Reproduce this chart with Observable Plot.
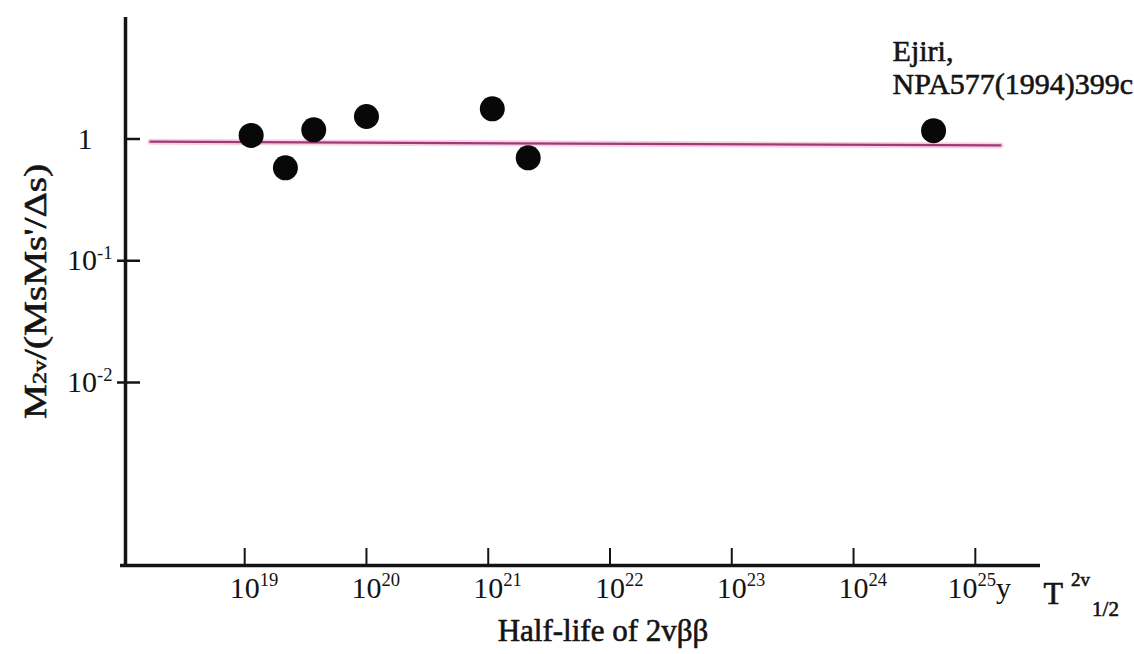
<!DOCTYPE html>
<html><head><meta charset="utf-8">
<script src="https://cdn.jsdelivr.net/npm/d3@7"></script>
<script src="https://cdn.jsdelivr.net/npm/@observablehq/plot@0.6"></script>
<style>
html,body{margin:0;padding:0;background:#fff;overflow:hidden;}
#chart svg{display:block;}
#chart svg, #chart svg text{font-family:'Liberation Serif','Times New Roman',serif !important;}
</style></head><body><div id="chart"></div>
<script>
// ---- data ----
const halfLife = [1.13e19, 2.16e19, 3.69e19, 1.0e20, 1.08e21, 2.13e21, 4.54e24]; // years
const ratio    = [1.07, 0.58, 1.19, 1.53, 1.77, 0.70, 1.17];
const lineX = [1.68e18, 1.61e25];
const lineY = [0.95, 0.885];
const xTicks = [1e19, 1e20, 1e21, 1e22, 1e23, 1e24, 1e25];
const xTickSup = ["19", "20", "21", "22", "23", "24", "25"];
const xTickSuffix = ["", "", "", "", "", "", "y"];
const yTicks = [1, 0.1, 0.01];
const yTickSup = ["", "-1", "-2"];
const xDomain = [1.05e18, 3.43e25];
const yDomain = [3.14e-4, 9.95];
const annotation = ["Ejiri,", "NPA577(1994)399c"];
const xTitle = "Half-life of 2vββ";
const yTitleParts = ["M", "2v", "/(MsMs'/Δs)"];
const tLabelParts = ["T", "2v", "1/2"];

// ---- layout ----
const W = 1134, H = 654;
const mL = 125, mR = 94, mT = 17, mB = 89;
const fw = W - mL - mR, fh = H - mT - mB;
const serif = "Liberation Serif";
const ink = "#141414";
const fs = 30;
const heavy = {stroke: ink, strokeWidth: 0.6};

const pts = halfLife.map((x, i) => ({x, y: ratio[i]}));
const lineData = lineX.map((x, i) => ({x, y: lineY[i]}));

const plot = Plot.plot({
  width: W, height: H,
  marginLeft: mL, marginRight: mR, marginTop: mT, marginBottom: mB,
  style: {background: "white", color: ink},
  x: {type: "log", domain: xDomain},
  y: {type: "log", domain: yDomain},
  marks: [
    Plot.line(lineData, {x: "x", y: "y", stroke: "#f2b0d6", strokeWidth: 6, strokeOpacity: 0.6}),
    Plot.line(lineData, {x: "x", y: "y", stroke: "#a03a74", strokeWidth: 2.2}),
    Plot.tickX(xTicks, {x: d => d, insetTop: fh - 17, stroke: ink, strokeWidth: 2}),
    Plot.tickY(yTicks, {y: d => d, insetRight: fw - 15, stroke: ink, strokeWidth: 2.5}),
    Plot.tickY(yTicks.slice(1), {y: d => d, insetLeft: -8, insetRight: fw, stroke: ink, strokeWidth: 2.5}),
    Plot.ruleX([xDomain[0]], {stroke: ink, strokeWidth: 3.5}),
    Plot.ruleY([yDomain[0]], {stroke: ink, strokeWidth: 3.5, insetLeft: -5}),
    Plot.axisX(xTicks, {tickSize: 0, tickPadding: 11, fontSize: fs, fontFamily: serif, fill: ink, ...heavy,
      tickFormat: d => "10" + xTickSup[xTicks.indexOf(d)] + xTickSuffix[xTicks.indexOf(d)], label: null}),
    Plot.axisY(yTicks, {tickSize: 0, tickPadding: 10, fontSize: fs, fontFamily: serif, fill: ink, ...heavy,
      tickFormat: d => (yTickSup[yTicks.indexOf(d)] ? "10" + yTickSup[yTicks.indexOf(d)] : "1"), label: null}),
    Plot.dot(pts, {x: "x", y: "y", r: 12.5, fill: "#080808"}),
    Plot.text([pts[6]], {x: "x", y: "y", text: () => annotation.join("\n"), textAnchor: "start",
      lineAnchor: "top", dx: -41, dy: -92, fontSize: 30, fontFamily: serif, lineHeight: 1.07, fill: ink, ...heavy}),
    Plot.text([xTitle], {frameAnchor: "bottom", textAnchor: "middle", lineAnchor: "bottom", dx: 20, dy: 75,
      fontSize: 31, fontFamily: serif, fill: ink, ...heavy}),
    Plot.text([tLabelParts[0]], {frameAnchor: "bottom-right", textAnchor: "start", lineAnchor: "bottom",
      dx: 3, dy: 38, fontSize: 32, fontFamily: serif, fill: ink, ...heavy}),
    Plot.text([yTitleParts.join("")], {frameAnchor: "left", textAnchor: "middle", rotate: -90, dx: -89,
      fontSize: 31, fontFamily: serif, fill: ink, ...heavy})
  ]
});
document.getElementById("chart").appendChild(plot);

// ---- superscripts / subscripts as real text ----
const svg = d3.select(plot);
svg.selectAll('g[aria-label="x-axis tick label"] text').each(function(d, i) {
  const t = d3.select(this);
  t.text(null);
  if (xTickSuffix[i]) t.attr("text-anchor", "middle").attr("dx", 4);
  else t.attr("text-anchor", "start").attr("dx", -fs * 0.5);
  t.append("tspan").text("10");
  t.append("tspan").attr("dy", -fs * 0.38).attr("font-size", fs * 0.62).text(xTickSup[i]);
  if (xTickSuffix[i]) t.append("tspan").attr("dy", fs * 0.38).text(xTickSuffix[i]);
});
svg.selectAll('g[aria-label="y-axis tick label"] text').each(function(d, i) {
  const t = d3.select(this);
  if (!yTickSup[i]) { t.attr("dx", -23); return; }
  t.text(null);
  t.attr("dx", -3);
  t.append("tspan").text("10");
  t.append("tspan").attr("dy", -fs * 0.38).attr("font-size", fs * 0.62).text(yTickSup[i]);
});
svg.selectAll('g[aria-label="text"] text').each(function() {
  const t = d3.select(this);
  const s = t.text();
  if (s === tLabelParts[0]) {
    t.text(null);
    t.append("tspan").text(tLabelParts[0]);
    t.append("tspan").attr("dx", 8).attr("dy", -18).attr("font-size", 19).text(tLabelParts[1]);
    t.append("tspan").attr("dx", 2).attr("dy", 30).attr("font-size", 21).text(tLabelParts[2]);
  } else if (s === yTitleParts.join("")) {
    t.text(null);
    t.append("tspan").text(yTitleParts[0]);
    t.append("tspan").attr("font-size", 19).text(yTitleParts[1]);
    t.append("tspan").text(yTitleParts[2]);
    t.attr("textLength", 255).attr("lengthAdjust", "spacingAndGlyphs");
  }
});
</script></body></html>
